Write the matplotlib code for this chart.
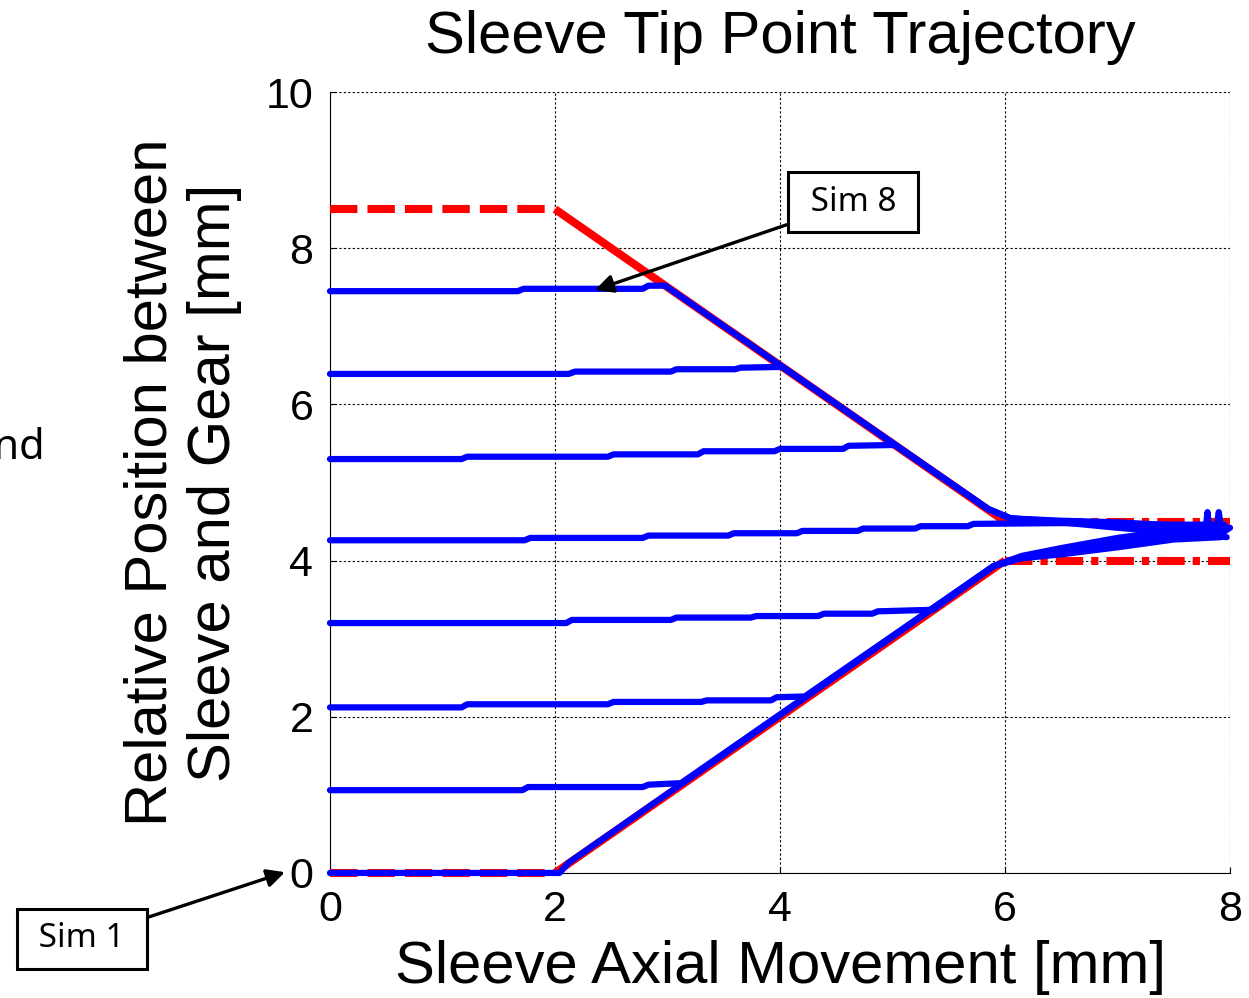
# sleeve tip point trajectory, sims 1-8 against the chamfer limits
import matplotlib
matplotlib.use('Agg')
import matplotlib.pyplot as plt

# red limits (gear chamfer)
lim_x_pre = [0, 2]
lim_up_pre = [8.5, 8.5]
lim_lo_pre = [0, 0]
lim_x_ch = [2, 6]
lim_up_ch = [8.5, 4.5]
lim_lo_ch = [0, 4]
lim_x_post = [6, 8]
lim_up_post = [4.5, 4.5]
lim_lo_post = [4, 4]

# blue sims
sim8_x = [0, 1.67, 1.72, 2.78, 2.83, 2.98, 5.85, 6.05, 6.5, 7.0, 7.5, 7.97]
sim8_y = [7.45, 7.45, 7.48, 7.48, 7.52, 7.52, 4.66, 4.54, 4.49, 4.42, 4.36, 4.30]
sim7_x = [0, 2.12, 2.18, 3.03, 3.08, 3.6, 3.65, 4.02, 5.85, 6.05, 6.5, 7.0, 7.5, 7.78, 7.8, 7.82, 7.93]
sim7_y = [6.39, 6.39, 6.42, 6.42, 6.45, 6.45, 6.47, 6.48, 4.66, 4.54, 4.50, 4.45, 4.40, 4.37, 4.62, 4.37, 4.33]
sim6_x = [0, 1.17, 1.22, 2.47, 2.52, 3.27, 3.32, 3.95, 4.0, 4.56, 4.61, 5.02, 5.85, 6.05, 6.5, 7.0, 7.5, 7.88, 7.9, 7.92, 7.98]
sim6_y = [5.30, 5.30, 5.33, 5.33, 5.36, 5.36, 5.40, 5.40, 5.43, 5.43, 5.47, 5.48, 4.66, 4.54, 4.51, 4.49, 4.45, 4.42, 4.62, 4.42, 4.40]
sim5_x = [0, 1.73, 1.78, 2.78, 2.83, 3.54, 3.59, 4.15, 4.2, 4.69, 4.74, 5.2, 5.25, 5.67, 5.72, 6.5, 7.0, 7.5, 7.95]
sim5_y = [4.26, 4.26, 4.29, 4.29, 4.32, 4.32, 4.35, 4.35, 4.38, 4.38, 4.41, 4.41, 4.44, 4.44, 4.47, 4.48, 4.47, 4.46, 4.46]
sim4_x = [0, 2.1, 2.15, 3.03, 3.08, 3.74, 3.79, 4.34, 4.39, 4.82, 4.87, 5.36, 5.9, 6.15, 6.5, 7.0, 7.5, 7.9]
sim4_y = [3.20, 3.20, 3.24, 3.24, 3.27, 3.27, 3.29, 3.29, 3.32, 3.32, 3.35, 3.37, 3.93, 4.06, 4.16, 4.29, 4.39, 4.43]
sim3_x = [0, 1.17, 1.22, 2.47, 2.52, 3.3, 3.35, 3.92, 3.97, 4.22, 5.9, 6.15, 6.5, 7.0, 7.5, 8.0]
sim3_y = [2.12, 2.12, 2.16, 2.16, 2.19, 2.19, 2.21, 2.21, 2.25, 2.26, 3.93, 4.05, 4.13, 4.25, 4.35, 4.42]
sim2_x = [0, 1.71, 1.76, 2.78, 2.83, 3.12, 5.9, 6.15, 6.5, 7.0, 7.5, 7.96]
sim2_y = [1.06, 1.06, 1.10, 1.10, 1.13, 1.15, 3.93, 4.04, 4.11, 4.22, 4.32, 4.38]
sim1_x = [0, 2.04, 2.12, 5.9, 6.15, 6.5, 7.0, 7.5, 7.92]
sim1_y = [0.0, 0.0, 0.13, 3.93, 4.03, 4.08, 4.17, 4.27, 4.30]

sims = [(sim1_x, sim1_y), (sim2_x, sim2_y), (sim3_x, sim3_y), (sim4_x, sim4_y),
        (sim5_x, sim5_y), (sim6_x, sim6_y), (sim7_x, sim7_y), (sim8_x, sim8_y)]

xticks = [0, 2, 4, 6, 8]
yticks = [0, 2, 4, 6, 8, 10]

plt.rcParams['font.family'] = ['Liberation Sans', 'DejaVu Sans']

fig = plt.figure(figsize=(12.49, 9.98), dpi=100)
ax = fig.add_axes([0.2642, 0.1253, 0.7206, 0.7825])

red = '#ff0000'
blue = '#0000ff'
lw_r = 5.8
dash = (0, (3.4, 1.25))
dashdot = (0, (3.4, 1.0, 0.9, 1.0))

for yy in (lim_up_pre, lim_lo_pre):
    ax.plot(lim_x_pre, yy, color=red, lw=lw_r, linestyle=dash, dash_capstyle='butt', clip_on=False, zorder=3)
for yy in (lim_up_ch, lim_lo_ch):
    ax.plot(lim_x_ch, yy, color=red, lw=lw_r, solid_capstyle='butt', clip_on=False, zorder=3)
for yy in (lim_up_post, lim_lo_post):
    ax.plot(lim_x_post, yy, color=red, lw=lw_r, linestyle=dashdot, dash_capstyle='butt', clip_on=False, zorder=3)

for sx, sy in sims:
    ax.plot(sx, sy, color=blue, lw=4.5, solid_joinstyle='round', solid_capstyle='round',
            clip_on=False, zorder=4)

ax.set_xlim(0, 8)
ax.set_ylim(0, 10)
ax.set_xticks(xticks)
ax.set_yticks(yticks)
ax.tick_params(direction='in', length=4, labelsize=31, pad=12)
ax.grid(True, color='k', linestyle=(0, (2, 2)), linewidth=0.8)
ax.set_axisbelow(True)
ax.spines['top'].set_visible(False)
ax.spines['right'].set_visible(False)

ax.set_title('Sleeve Tip Point Trajectory', fontsize=43, pad=28)
ax.set_xlabel('Sleeve Axial Movement [mm]', fontsize=43)
ax.set_ylabel('Relative Position between\nSleeve and Gear [mm]', fontsize=43)
ax.xaxis.set_label_coords(0.5, -0.086)
ax.yaxis.set_label_coords(-0.098, 0.5)

box = dict(boxstyle='square,pad=0.4', fc='white', ec='k', lw=2.2)
arrow = dict(arrowstyle='-|>', mutation_scale=27, lw=2.4, color='k', shrinkA=0, shrinkB=0)
ax.annotate(' Sim 8 ', xy=(2.356, 7.465), xytext=(4.65, 8.59), fontsize=24,
            family=['Noto Sans', 'DejaVu Sans'], ha='center', va='center',
            bbox=box, arrowprops=arrow, zorder=6)
ax.annotate(' Sim 1 ', xy=(-0.4, 0.01), xytext=(-2.204, -0.845), fontsize=24,
            family=['Noto Sans', 'DejaVu Sans'], ha='center', va='center',
            bbox=box, arrowprops=arrow, annotation_clip=False, zorder=6)

# clipped leftover text at the left edge
fig.text(45 / 1249, 1 - 459 / 998, 'and', fontsize=30, family=['Noto Sans', 'DejaVu Sans'],
         ha='right', va='baseline')

fig.savefig('out.png', dpi=100)
